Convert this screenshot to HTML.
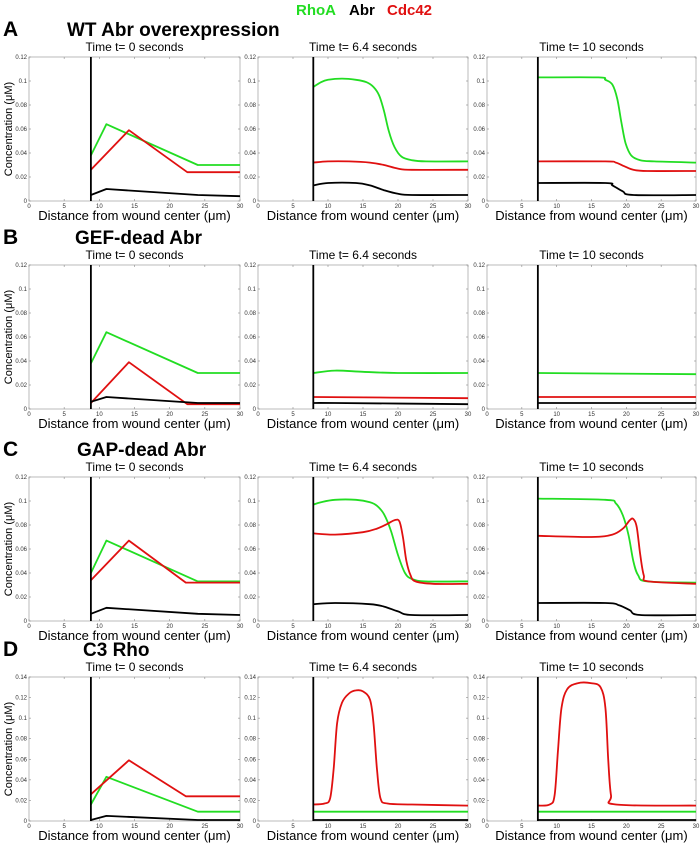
<!DOCTYPE html>
<html><head><meta charset="utf-8"><style>
body{margin:0;background:#fff;}
svg{display:block;font-family:"Liberation Sans",sans-serif;}
</style></head><body>
<svg id="fig" width="700" height="844" viewBox="0 0 700 844" xmlns="http://www.w3.org/2000/svg">
<g font-weight="bold" font-size="15">
<text x="296" y="15" fill="#22dd22">RhoA</text>
<text x="349" y="15" fill="#000">Abr</text>
<text x="387" y="15" fill="#e01010">Cdc42</text>
</g>
</svg>
<script>
const rowTops=[57,265,477,677];
const rowLetters=["A","B","C","D"];
const rowTitles=["WT Abr overexpression","GEF-dead Abr","GAP-dead Abr","C3 Rho"];
const rowTitleX=[67,75,77,83];
const times=["0","6.4","10"];
const yMaxes=[0.12,0.12,0.12,0.14];
const xTicks=[0,5,10,15,20,25,30];
const yTicks12=[0,0.02,0.04,0.06,0.08,0.1,0.12];
const yTicks14=[0,0.02,0.04,0.06,0.08,0.1,0.12,0.14];
const woundX=[[8.8,7.9,7.3],[8.8,7.9,7.3],[8.8,7.9,7.3],[8.8,7.9,7.3]];
const rhoA=[
[[8.8,0.038],[11,0.064],[24,0.030],[30,0.030]],
[[7.9,0.095],[9,0.099],[10,0.101],[12,0.102],[14,0.101],[15.5,0.099],[16.5,0.095],[17.3,0.088],[18,0.075],[18.7,0.058],[19.5,0.045],[20.5,0.037],[22,0.034],[24,0.033],[30,0.033]],
[[7.3,0.103],[16,0.103],[17,0.101],[18,0.097],[18.7,0.085],[19.3,0.065],[19.9,0.048],[20.7,0.038],[22,0.034],[24,0.033],[30,0.032]],
[[8.8,0.038],[11,0.064],[24,0.030],[30,0.030]],
[[7.9,0.030],[11,0.032],[15,0.031],[20,0.030],[30,0.030]],
[[7.3,0.030],[30,0.029]],
[[8.8,0.040],[11,0.067],[24,0.033],[30,0.033]],
[[7.9,0.097],[9,0.099],[11,0.101],[14,0.101],[16,0.099],[17,0.096],[18,0.089],[19,0.075],[20,0.055],[21,0.040],[22,0.035],[24,0.033],[30,0.033]],
[[7.3,0.102],[17,0.101],[18.5,0.098],[19.5,0.088],[20.3,0.072],[21,0.050],[21.7,0.038],[23,0.033],[30,0.032]],
[[8.8,0.016],[11,0.043],[24,0.009],[30,0.009]],
[[7.9,0.009],[30,0.009]],
[[7.3,0.009],[30,0.009]]];
const cdc42=[
[[8.8,0.026],[14.2,0.059],[22.5,0.024],[30,0.024]],
[[7.9,0.032],[10,0.033],[13,0.033],[16,0.032],[18,0.030],[20,0.027],[22,0.026],[30,0.026]],
[[7.3,0.033],[17,0.033],[18.5,0.032],[19.7,0.029],[21,0.026],[23,0.025],[30,0.025]],
[[8.8,0.005],[14.2,0.039],[22.5,0.004],[30,0.004]],
[[7.9,0.010],[30,0.009]],
[[7.3,0.010],[30,0.010]],
[[8.8,0.034],[14.2,0.067],[22.3,0.032],[30,0.032]],
[[7.9,0.073],[11,0.072],[15,0.074],[17,0.077],[18.5,0.081],[19.5,0.084],[20.2,0.083],[20.7,0.070],[21.2,0.050],[21.8,0.038],[22.5,0.033],[25,0.031],[30,0.031]],
[[7.3,0.071],[15,0.070],[18,0.072],[19.5,0.077],[20.5,0.084],[21,0.085],[21.5,0.078],[22,0.055],[22.5,0.038],[23.2,0.033],[30,0.031]],
[[8.8,0.026],[14.2,0.059],[22.3,0.024],[30,0.024]],
[[7.9,0.016],[9.5,0.017],[10.3,0.022],[10.8,0.050],[11.3,0.095],[12,0.115],[13,0.124],[14,0.127],[15,0.126],[16,0.118],[16.5,0.095],[17,0.050],[17.5,0.022],[18.5,0.017],[22,0.016],[30,0.015]],
[[7.3,0.015],[9,0.016],[9.7,0.025],[10.2,0.070],[10.7,0.110],[11.5,0.128],[13,0.134],[15,0.134],[16.3,0.130],[17,0.110],[17.4,0.060],[17.8,0.025],[18.5,0.016],[30,0.015]]];
const abr=[
[[8.8,0.005],[11,0.010],[24,0.005],[30,0.004]],
[[7.9,0.013],[10,0.015],[14,0.015],[16,0.013],[18,0.009],[20,0.006],[22,0.005],[30,0.005]],
[[7.3,0.015],[17,0.015],[18,0.013],[19.5,0.008],[21,0.005],[30,0.005]],
[[8.8,0.006],[11,0.010],[24,0.005],[30,0.005]],
[[7.9,0.005],[11,0.005],[30,0.004]],
[[7.3,0.005],[30,0.005]],
[[8.8,0.006],[11,0.011],[24,0.006],[30,0.005]],
[[7.9,0.014],[11,0.015],[16,0.014],[18,0.012],[20,0.008],[22,0.005],[30,0.005]],
[[7.3,0.015],[17,0.015],[19,0.013],[20.5,0.009],[22,0.005],[30,0.005]],
[[8.8,0.001],[11,0.005],[24,0.001],[30,0.001]],
[[7.9,0.001],[30,0.001]],
[[7.3,0.001],[30,0.001]]];
const colX=[[29,240],[258,468],[487,696]];
const PH=144;
const NS="http://www.w3.org/2000/svg";
const svg=document.getElementById('fig');
function mk(tag,attrs,parent){const e=document.createElementNS(NS,tag);for(const k in attrs)e.setAttribute(k,attrs[k]);parent.appendChild(e);return e;}
function smoothPath(P){
  let d='M'+P[0][0].toFixed(1)+','+P[0][1].toFixed(1);
  for(let i=0;i<P.length-1;i++){
    const p0=P[i-1]||P[i],p1=P[i],p2=P[i+1],p3=P[i+2]||P[i+1];
    const c1=[p1[0]+(p2[0]-p0[0])/6,p1[1]+(p2[1]-p0[1])/6];
    const c2=[p2[0]-(p3[0]-p1[0])/6,p2[1]-(p3[1]-p1[1])/6];
    d+=' C'+c1[0].toFixed(1)+','+c1[1].toFixed(1)+' '+c2[0].toFixed(1)+','+c2[1].toFixed(1)+' '+p2[0].toFixed(1)+','+p2[1].toFixed(1);
  }
  return d;
}
for(let r=0;r<4;r++){
  const T=rowTops[r];
  const lt=mk('text',{x:3,y:T-21,'font-size':21,'font-weight':'bold'},svg);
  
  
  lt.textContent=rowLetters[r];
  const tt=mk('text',{x:rowTitleX[r],y:T-21,'font-size':19,'font-weight':'bold'},svg);
  
  
  tt.textContent=rowTitles[r];
  const ymax=yMaxes[r];
  const yt=ymax>0.13?yTicks14:yTicks12;
  for(let c=0;c<3;c++){
    const p=r*3+c;
    const [x0,x1]=colX[c];
    const sx=v=>x0+(v/30)*(x1-x0);
    const sy=v=>T+PH-(v/ymax)*PH;
    const g=mk('g',{},svg);
    
    
    const tl=mk('text',{x:(x0+x1)/2,y:T-6,'font-size':12,'text-anchor':'middle'},g);
    
    
    tl.textContent='Time t= '+times[c]+' seconds';
    const box=mk('rect',{x:x0,y:T,width:x1-x0,height:PH,fill:'#fff',stroke:'#aaa','stroke-width':0.8},g);
    
    
    xTicks.forEach(v=>{
      const x=sx(v);
      mk('line',{x1:x,x2:x,y1:T+PH,y2:T+PH-2,stroke:'#888','stroke-width':0.6},g);
      mk('line',{x1:x,x2:x,y1:T,y2:T+2,stroke:'#888','stroke-width':0.6},g);
      const t=mk('text',{x:x,y:T+PH+7,'font-size':6,'text-anchor':'middle',fill:'#333'},g);
      
      
      t.textContent=v;
    });
    yt.forEach(v=>{
      const y=sy(v);
      mk('line',{x1:x0,x2:x0+2,y1:y,y2:y,stroke:'#888','stroke-width':0.6},g);
      mk('line',{x1:x1,x2:x1-2,y1:y,y2:y,stroke:'#888','stroke-width':0.6},g);
      const t=mk('text',{x:x0-2,y:y+2,'font-size':6,'text-anchor':'end',fill:'#333'},g);
      
      
      t.textContent=v===0?'0':String(v);
    });
    const series=[[rhoA[p],'#22dd22','rhoa-line'],[cdc42[p],'#e01010','cdc42-line'],[abr[p],'#000','abr-line']];
    series.forEach(([pts,col,nm])=>{
      const P=pts.map(q=>[sx(q[0]),sy(q[1])]);
      const d=c===0?('M'+P.map(q=>q[0].toFixed(1)+','+q[1].toFixed(1)).join(' L')):smoothPath(P);
      const pl=mk('path',{d:d,fill:'none',stroke:col,'stroke-width':1.8,'stroke-linejoin':'round'},g);
      
      
    });
    const wx=sx(woundX[r][c]);
    const wl=mk('line',{x1:wx,x2:wx,y1:T,y2:T+PH,stroke:'#000','stroke-width':1.8},g);
    
    
    const xl=mk('text',{x:(x0+x1)/2,y:T+PH+19,'font-size':13,'text-anchor':'middle'},g);
    
    
    xl.textContent='Distance from wound center (\u03bcm)';
    if(c===0){
      const yl=mk('text',{x:0,y:0,'font-size':11,'text-anchor':'middle',transform:'translate(12,'+(T+PH/2)+') rotate(-90)'},g);
      
      
      yl.textContent='Concentration (\u03bcM)';
    }
  }
}
</script>
</body></html>
